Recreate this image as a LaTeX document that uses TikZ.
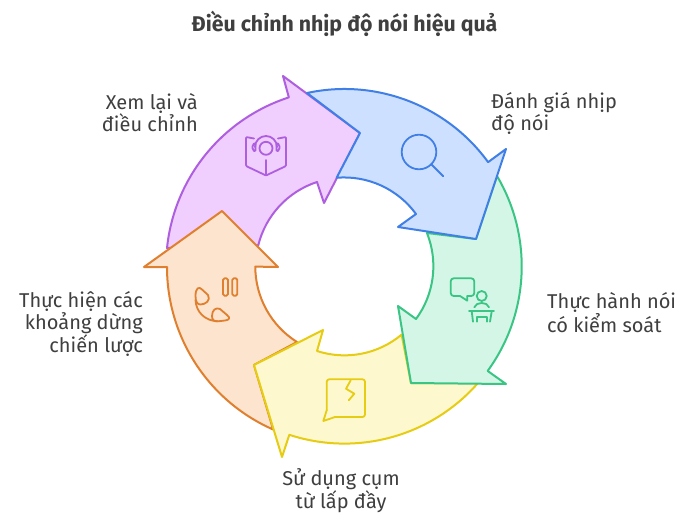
\documentclass[tikz,border=0pt]{standalone}
\usepackage{fontspec}
\setmainfont{Fira Sans}
\definecolor{tone}{HTML}{3F3F3F}
\definecolor{purpleline}{HTML}{AE5FE0}
\definecolor{purplefill}{HTML}{F0CEFD}
\definecolor{blueline}{HTML}{3F7FE6}
\definecolor{bluefill}{HTML}{CEE0FF}
\definecolor{greenline}{HTML}{3AC585}
\definecolor{greenfill}{HTML}{D4F6E6}
\definecolor{yellowline}{HTML}{E6CC12}
\definecolor{yellowfill}{HTML}{FEF8CE}
\definecolor{orangeline}{HTML}{E0802F}
\definecolor{orangefill}{HTML}{FDE4CE}
\def\Rout{177.5pt}
\def\Rin{89pt}

\begin{document}
\begin{tikzpicture}[x=1pt, y=1pt, line join=round, line cap=round,
    band/.style={line width=2pt, draw=#1line, fill=#1fill},
    sign/.style={line width=1.8pt, draw=#1line},
    label/.style={text=tone, font=\fontsize{20}{22}\selectfont, inner sep=0pt}]
  \useasboundingbox (0,0) rectangle (700,-522);
  \fill[white] (0,0) rectangle (700,-522);

  % arrows, each one over the previous
  \draw[band=purple] (167,-248) arc[start angle=174.1, end angle=107.95, radius=\Rout]
    -- (283,-76) -- (360,-133) -- (324,-203) -- (317,-182)
    arc[start angle=108.1, end angle=166.2, radius=\Rin] -- cycle;
  \draw[band=orange] (167,-267) arc[start angle=180, end angle=246.3, radius=\Rout]
    -- (254,-365) -- (297,-342)
    arc[start angle=237.9, end angle=180, radius=\Rin]
    -- (278,-267) -- (222,-211) -- (144,-267) -- cycle;
  \draw[band=yellow] (478,-383) arc[start angle=-41.2, end angle=-108.1, radius=\Rout]
    -- (282,-457) -- (254,-365) -- (323,-330) -- (317,-351)
    arc[start angle=-108, end angle=-50.1, radius=\Rin]
    -- (411,-383) -- cycle;
  \draw[band=green] (497,-176) arc[start angle=30.6, end angle=-36.1, radius=\Rout]
    -- (506,-384) -- (411,-383) -- (398,-306) -- (416,-319)
    arc[start angle=-36.4, end angle=21.9, radius=\Rin]
    -- (476,-239) -- cycle;
  \draw[band=blue] (307,-93) arc[start angle=102.2, end angle=36, radius=\Rout]
    -- (506,-149) -- (476,-239) -- (398,-227) -- (416,-214)
    arc[start angle=36.1, end angle=94.8, radius=\Rin]
    -- (360,-133) -- cycle;

  % icons
  \draw[sign=purple, rounded corners=1pt] (254,-138.5) -- (246,-137) -- (246,-166) -- (266,-175.5) -- (286,-166) -- (286,-137) -- (278,-138.5);
  \draw[sign=purple] (266,-160) -- (266,-175.5);
  \draw[sign=purple] (266,-148.3) circle[radius=6.5pt];
  \draw[sign=purple] (255,-147) arc[start angle=180, end angle=0, radius=11pt];
  \draw[sign=purple, rounded corners=1.5pt] (255.5,-142.5) -- (252.5,-145) -- (252.5,-149.5) -- (255.5,-152) -- cycle;
  \draw[sign=purple, rounded corners=1.5pt] (276.5,-142.5) -- (279.5,-145) -- (279.5,-149.5) -- (276.5,-152) -- cycle;

  \draw[sign=blue] (419,-152) circle[radius=17.3pt];
  \draw[sign=blue] (431.3,-164.3) -- (443.3,-176.3);

  \draw[sign=green, rounded corners=3pt] (460,-296) -- (450.7,-296) -- (450.7,-278.3) -- (474.3,-278.3) -- (474.3,-296) -- (467.3,-296);
  \draw[sign=green] (460,-296) -- (467.3,-300.7) -- (467.3,-296);
  \draw[sign=green] (481.7,-296) circle[radius=5pt];
  \draw[sign=green] (474.3,-307.3) .. controls (476,-301.5) and (487.5,-301.5) .. (489,-307.3);
  \draw[sign=green] (469,-311.3) -- (494,-311.3);
  \draw[sign=green] (471.7,-311.3) -- (473,-321.7);
  \draw[sign=green] (491.7,-311.3) -- (490,-321.7);
  \draw[sign=green] (476.7,-321.7) -- (476.7,-317.3) -- (486.7,-317.3) -- (486.7,-321.7);

  \draw[sign=yellow, rounded corners=2.5pt] (335,-417) -- (365,-417) -- (365,-379.3) -- (326.7,-379.3) -- (326.7,-410.3);
  \draw[sign=yellow] (326.7,-410.3) -- (323.3,-421) -- (335,-417);
  \draw[sign=yellow] (350.7,-380.3) -- (346,-388.7) -- (354.3,-393.7) -- (348.7,-400.3);

  \draw[sign=orange, rounded corners=1.5pt] (223,-278.3) rectangle (228,-295.7);
  \draw[sign=orange, rounded corners=1.5pt] (232.3,-278.3) rectangle (237.3,-295.7);
  \draw[sign=orange] (195.5,-296) .. controls (195.5,-288) and (199,-286) .. (202,-289.5) -- (208,-295)
    .. controls (211,-300) and (206,-304.5) .. (200.5,-304.5) .. controls (197.5,-304.5) and (195.5,-302) .. cycle;
  \draw[sign=orange] (195.5,-300) .. controls (196,-312) and (205,-321) .. (218,-321.3);
  \draw[sign=orange] (212,-316) .. controls (212,-310) and (216,-307) .. (220,-309) -- (227,-315)
    .. controls (231,-318) and (229,-320) .. (225,-320.5) -- (218,-321.3) .. controls (214,-321.5) and (212,-320) .. cycle;

  % texts
  \node[text=tone, inner sep=0pt, font=\fontsize{21.3}{22}\selectfont\bfseries] (title) at (344.5,-24) {Điều chỉnh nhịp độ nói hiệu quả};
  \node[label, align=right, anchor=east] (review) at (198,-113) {Xem lại và\\điều chỉnh};
  \node[label, align=left, anchor=west] (assess) at (491,-113) {Đánh giá nhịp\\độ nói};
  \node[label, align=left, anchor=west] (practice) at (547,-313) {Thực hành nói\\có kiểm soát};
  \node[label, align=center] (filler) at (341,-490.5) {Sử dụng cụm\\từ lấp đầy};
  \node[label, align=right, anchor=east] (pause) at (143,-324) {Thực hiện các\\khoảng dừng\\chiến lược};
\end{tikzpicture}
\end{document}
